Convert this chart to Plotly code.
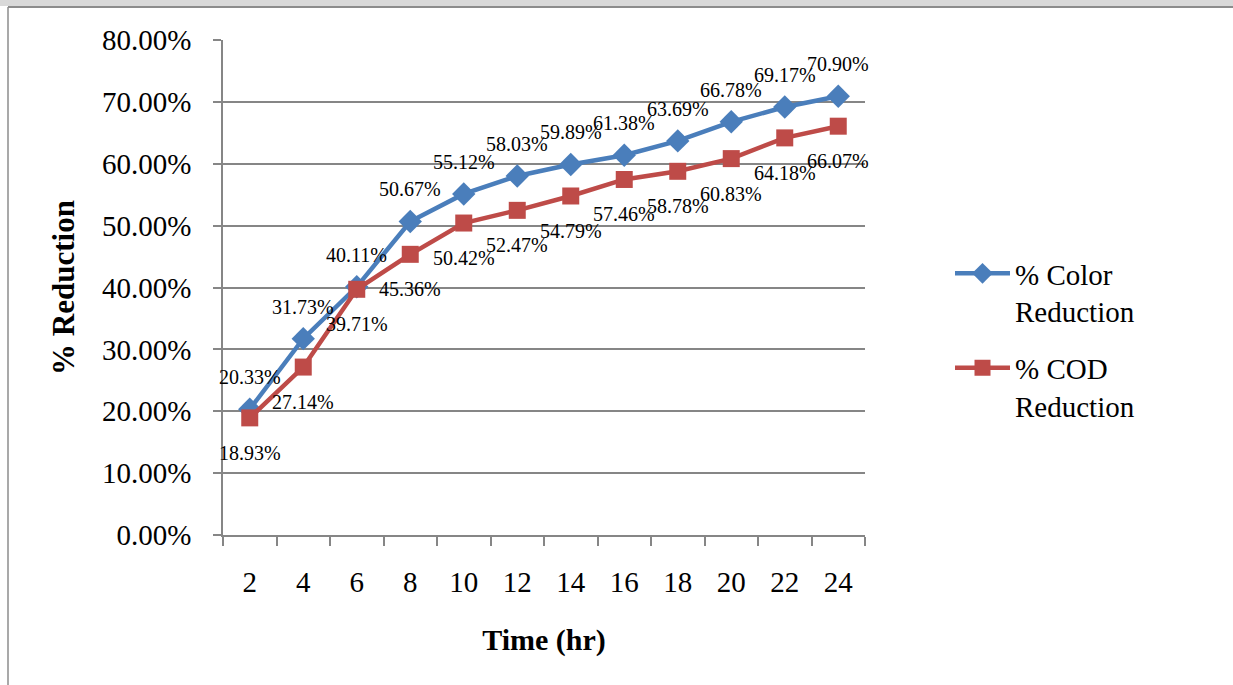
import plotly.graph_objects as go

time_hr = ["2", "4", "6", "8", "10", "12", "14", "16", "18", "20", "22", "24"]
color_reduction = [20.33, 31.73, 40.11, 50.67, 55.12, 58.03, 59.89, 61.38, 63.69, 66.78, 69.17, 70.90]
cod_reduction = [18.93, 27.14, 39.71, 45.36, 50.42, 52.47, 54.79, 57.46, 58.78, 60.83, 64.18, 66.07]
y_ticks = [0, 10, 20, 30, 40, 50, 60, 70, 80]

FONT = "Liberation Serif, Times New Roman, serif"
BLUE = "#4A7EBB"
RED = "#BE4B48"

L, R, T, B = 223, 368, 40, 150
W, H = 1233 - L - R, 685 - T - B

def px(x):
    return (x - L) / W

def py(y):
    return (685 - B - y) / H

fig = go.Figure()
fig.add_trace(go.Scatter(
    x=time_hr, y=color_reduction, mode="lines+markers",
    name="% Color<br>Reduction", legendgroup="a",
    line=dict(color=BLUE, width=4.5),
    marker=dict(symbol="diamond", size=18, color=BLUE),
    cliponaxis=False,
))
fig.add_trace(go.Scatter(
    x=time_hr, y=cod_reduction, mode="lines+markers",
    name="% COD<br>Reduction", legendgroup="b",
    line=dict(color=RED, width=4.5),
    marker=dict(symbol="square", size=17, color=RED),
    cliponaxis=False,
))

annotations = []
for i, v in enumerate(color_reduction):
    annotations.append(dict(x=i, y=v, xref="x", yref="y", text=f"{v:.2f}%", showarrow=False,
                            yshift=32, font=dict(family=FONT, size=20, color="black")))
for i, v in enumerate(cod_reduction):
    annotations.append(dict(x=i, y=v, xref="x", yref="y", text=f"{v:.2f}%", showarrow=False,
                            yshift=-35, font=dict(family=FONT, size=20, color="black")))

shapes = [
    dict(type="rect", xref="paper", yref="paper", x0=px(0), x1=px(1233), y0=py(0), y1=py(6),
         fillcolor="#D9D9D9", line=dict(width=0), layer="below"),
    dict(type="line", xref="paper", yref="paper", x0=px(8), x1=px(1233), y0=py(7), y1=py(7),
         line=dict(color="#8C8C8C", width=2)),
    dict(type="line", xref="paper", yref="paper", x0=px(8), x1=px(8), y0=py(7), y1=py(685),
         line=dict(color="#8C8C8C", width=1.5)),
]

fig.update_layout(
    width=1233, height=685,
    margin=dict(l=L, r=R, t=T, b=B, autoexpand=False),
    paper_bgcolor="white", plot_bgcolor="white",
    font=dict(family=FONT, color="black"),
    showlegend=True,
    legend=dict(
        x=px(950), y=py(248), xanchor="left", yanchor="top", valign="top",
        font=dict(family=FONT, size=29, color="black"),
        itemwidth=55, traceorder="grouped", tracegroupgap=16, bgcolor="rgba(0,0,0,0)",
    ),
    shapes=shapes,
    annotations=annotations,
    xaxis=dict(
        type="category", range=[-0.5, 11.5], tickson="boundaries", ticks="outside", ticklen=9,
        tickcolor="#868686", tickwidth=1.5,
        showline=True, linecolor="#868686", linewidth=1.5,
        showgrid=False, automargin=False,
        tickfont=dict(family=FONT, size=29),
        ticklabelstandoff=20,
        title=dict(text="<b>Time (hr)</b>", font=dict(family=FONT, size=30), standoff=32),
    ),
    yaxis=dict(
        range=[0, 80], tickvals=y_ticks,
        ticktext=[f"{v:.2f}%" for v in y_ticks],
        ticks="outside", ticklen=8, tickcolor="#868686", tickwidth=1.5,
        showline=True, linecolor="#868686", linewidth=1.5,
        showgrid=True, gridcolor="#868686", gridwidth=1.5,
        zeroline=False, automargin=False,
        tickfont=dict(family=FONT, size=29),
        ticklabelstandoff=16,
        title=dict(text="<b>% Reduction</b>", font=dict(family=FONT, size=31), standoff=18),
    ),
)

fig.write_html("out.html", config={"displayModeBar": False},
               post_script="document.body.style.margin='0px';")
